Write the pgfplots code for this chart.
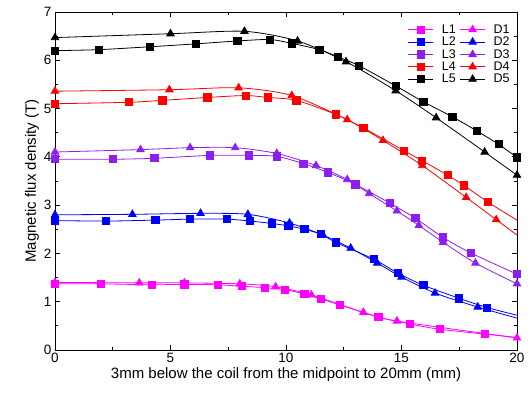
\documentclass[border=0pt]{standalone}
\usepackage{fontspec}
\setmainfont{Liberation Sans}
\usepackage{pgfplots}
\pgfplotsset{compat=1.18}
\definecolor{cmag}{RGB}{255,0,255}
\definecolor{cblue}{RGB}{0,0,255}
\definecolor{cpur}{RGB}{140,30,240}
\definecolor{cred}{RGB}{255,0,0}
\begin{document}
\begin{tikzpicture}
\begin{axis}[
  scale only axis, width=462pt, height=338pt,
  xmin=0, xmax=20, ymin=0, ymax=7,
  xtick={0,5,10,15,20}, ytick={0,1,...,7},
  minor x tick num=1, minor y tick num=1,
  tick align=inside, major tick length=5pt, minor tick length=3pt,
  tick style={black, line width=0.8pt},
  axis line style={line width=0.8pt},
  /pgf/number format/assume math mode=true,
  ticklabel style={font=\fontsize{13.5}{15}\selectfont},
  xlabel={3mm below the coil from the midpoint to 20mm (mm)},
  ylabel={Magnetic flux density (T)},
  label style={font=\fontsize{15}{17}\selectfont},
  xlabel style={yshift=2pt},
  ylabel style={yshift=-2pt},
  legend columns=2,
  legend style={draw=none, fill=none, at={(0.995,0.975)}, anchor=north east,
    font=\fontsize{12.5}{13.5}\selectfont, row sep=-1.8pt,
    /tikz/every odd column/.append style={column sep=6pt},
    /tikz/every even column/.append style={column sep=2pt}},
  legend cell align=left,
  legend image code/.code={\draw[#1, mark indices={2}, smooth=false] plot coordinates {(0pt,0pt)(12.5pt,0pt)(25pt,0pt)};},
  every axis plot/.append style={line width=0.8pt, smooth, tension=0.45},
  mark options={solid},
]
\addplot[cmag, mark=square*, mark size=3.6pt, mark indices={1,...,15}] coordinates {
(0,1.37)(2.0,1.37)(4.2,1.35)(5.6,1.36)(7.05,1.35)(8.1,1.32)(9.1,1.29)(9.95,1.25)(10.8,1.16)(11.5,1.06)(12.35,0.93)(14.0,0.68)(15.35,0.54)(16.65,0.43)(18.6,0.33)(20,0.26)};
\addlegendentry{L1}
\addplot[cmag, mark=triangle*, mark size=4.3pt] coordinates {
(0,1.40)(3.65,1.39)(5.6,1.39)(8.0,1.37)(9.55,1.31)(11.1,1.14)(13.35,0.78)(14.8,0.60)(20,0.25)};
\addlegendentry{D1}
\addplot[cblue, mark=square*, mark size=3.6pt, mark indices={1,...,16}] coordinates {
(0,2.68)(2.2,2.67)(4.35,2.69)(5.85,2.71)(7.45,2.71)(8.45,2.67)(9.4,2.62)(10.1,2.57)(10.8,2.50)(11.5,2.40)(12.15,2.23)(13.8,1.88)(14.85,1.59)(15.95,1.34)(17.5,1.07)(18.7,0.88)(20,0.72)};
\addlegendentry{L2}
\addplot[cblue, mark=triangle*, mark size=4.3pt, mark indices={1,...,11}] coordinates {
(0,2.80)(3.35,2.81)(6.3,2.83)(8.35,2.81)(10.15,2.63)(11.6,2.38)(12.8,2.11)(13.95,1.80)(15.0,1.51)(16.45,1.18)(18.3,0.89)(20,0.66)};
\addlegendentry{D2}
\addplot[cpur, mark=square*, mark size=3.6pt] coordinates {
(0,3.95)(2.5,3.95)(4.3,3.97)(6.7,4.03)(8.4,4.03)(9.6,4.01)(10.75,3.86)(11.8,3.68)(13.0,3.43)(14.5,3.04)(15.6,2.73)(16.8,2.33)(18.0,2.01)(20,1.57)};
\addlegendentry{L3}
\addplot[cpur, mark=triangle*, mark size=4.3pt] coordinates {
(0,4.10)(3.7,4.15)(5.85,4.19)(7.8,4.19)(9.6,4.07)(11.3,3.82)(12.65,3.53)(13.6,3.24)(14.8,2.88)(15.75,2.58)(16.8,2.23)(18.2,1.80)(20,1.37)};
\addlegendentry{D3}
\addplot[cred, mark=square*, mark size=3.6pt, mark indices={1,...,14}] coordinates {
(0,5.10)(3.2,5.13)(4.65,5.17)(6.6,5.23)(8.25,5.27)(9.2,5.23)(10.45,5.17)(12.15,4.88)(13.35,4.60)(15.1,4.13)(15.9,3.92)(17.0,3.62)(17.7,3.41)(18.75,3.06)(20,2.69)};
\addlegendentry{L4}
\addplot[cred, mark=triangle*, mark size=4.3pt, mark indices={1,...,9}] coordinates {
(0,5.36)(4.95,5.39)(7.95,5.43)(10.25,5.27)(12.65,4.77)(14.2,4.34)(15.9,3.82)(17.8,3.16)(19.1,2.70)(20,2.38)};
\addlegendentry{D4}
\addplot[black, mark=square*, mark size=3.6pt] coordinates {
(0,6.20)(1.9,6.22)(4.1,6.28)(6.1,6.34)(7.9,6.40)(9.3,6.43)(10.25,6.35)(11.45,6.22)(12.25,6.07)(13.15,5.89)(14.75,5.47)(15.95,5.14)(17.2,4.83)(18.25,4.54)(19.2,4.26)(20,3.99)};
\addlegendentry{L5}
\addplot[black, mark=triangle*, mark size=4.3pt] coordinates {
(0,6.47)(5.0,6.55)(8.2,6.60)(10.5,6.40)(12.6,5.97)(14.75,5.37)(16.5,4.81)(18.6,4.10)(20,3.62)};
\addlegendentry{D5}
\end{axis}
\pgfresetboundingbox
\path ([shift={(-55pt,-47pt)}]current axis.south west) rectangle ([shift={(14pt,12pt)}]current axis.north east);
\end{tikzpicture}
\end{document}
